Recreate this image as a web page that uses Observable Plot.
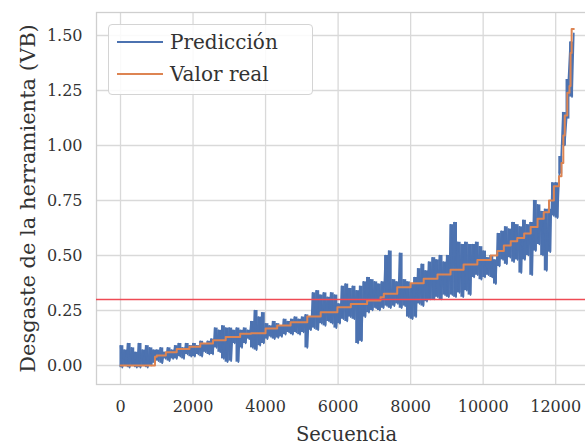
<!DOCTYPE html>
<html>
<head>
<meta charset="utf-8">
<script src="https://cdn.jsdelivr.net/npm/d3@7"></script>
<script src="https://cdn.jsdelivr.net/npm/@observablehq/plot@0.6"></script>
<style>
  html, body { margin: 0; padding: 0; background: #fff; }
  #wrap { position: relative; width: 585px; height: 445px; overflow: hidden; font-family: "DejaVu Serif", serif; }
  #chart { position: absolute; left: 0; top: 0; width: 596px; }
  #chart svg { max-width: none !important; }
  g[aria-label="y-axis label"] text { font-size: 21px; }
  g[aria-label="x-axis label"] text { font-size: 19.5px; }
  #legend { position: absolute; left: 108px; top: 24px; width: 205px; height: 71px;
    border: 1px solid #d4d4d4; border-radius: 4px; background: rgba(255,255,255,0.85); box-sizing: border-box; }
  .row { position: absolute; left: 0; height: 30px; display: flex; align-items: center; }
  .row span.ln { display: inline-block; width: 46px; height: 2px; margin-left: 8px; margin-right: 7px; }
  .row span.tx { font-size: 20px; color: #333; }
</style>
</head>
<body>
<div id="wrap">
  <div id="chart"></div>
  <div id="legend">
    <div class="row" style="top:2px"><span class="ln" style="background:#4C72B0"></span><span class="tx">Predicción</span></div>
    <div class="row" style="top:34px"><span class="ln" style="background:#DD8452"></span><span class="tx">Valor real</span></div>
  </div>
</div>
<script>
// Prediction: one value every 50 steps of the sequence (alternating high / low excursions)
const predStep = 50;
const prediccion = [
  0.09,-0.01,0.07,0.00,0.10,-0.01,0.08,0.00,0.06,-0.01,
  0.10,-0.01,0.07,0.00,0.09,-0.01,0.08,0.00,0.07,0.01,
  0.07,0.02,0.08,0.01,0.06,0.03,0.08,0.02,0.07,0.03,
  0.09,0.03,0.10,0.04,0.08,0.03,0.10,0.05,0.09,0.04,
  0.10,0.04,0.09,0.05,0.11,0.04,0.10,0.06,0.11,0.05,
  0.12,0.05,0.17,0.08,0.16,0.06,0.18,0.03,0.17,0.015,
  0.17,0.02,0.16,0.10,0.17,0.015,0.16,0.08,0.17,0.10,
  0.16,0.12,0.20,0.08,0.25,0.07,0.22,0.09,0.24,0.10,
  0.19,0.12,0.18,0.13,0.20,0.12,0.19,0.125,0.18,0.13,
  0.21,0.14,0.20,0.15,0.21,0.14,0.22,0.15,0.21,0.14,
  0.22,0.15,0.23,0.08,0.22,0.16,0.33,0.17,0.34,0.16,
  0.32,0.19,0.33,0.18,0.31,0.20,0.33,0.19,0.32,0.17,
  0.28,0.19,0.36,0.21,0.37,0.20,0.35,0.22,0.36,0.21,
  0.34,0.10,0.36,0.11,0.38,0.22,0.40,0.24,0.39,0.25,
  0.38,0.26,0.37,0.25,0.38,0.26,0.50,0.27,0.52,0.26,
  0.39,0.27,0.38,0.28,0.51,0.26,0.39,0.27,0.38,0.22,
  0.37,0.21,0.40,0.22,0.44,0.28,0.46,0.27,0.43,0.29,
  0.47,0.30,0.49,0.30,0.48,0.31,0.50,0.30,0.47,0.32,
  0.50,0.31,0.64,0.32,0.65,0.31,0.56,0.33,0.55,0.31,
  0.56,0.34,0.55,0.32,0.55,0.40,0.56,0.41,0.54,0.39,
  0.52,0.40,0.49,0.41,0.50,0.40,0.48,0.37,0.60,0.45,
  0.61,0.48,0.63,0.46,0.62,0.49,0.65,0.47,0.64,0.48,
  0.63,0.42,0.66,0.48,0.64,0.50,0.65,0.41,0.75,0.52,
  0.73,0.55,0.70,0.50,0.71,0.43,0.71,0.515,0.83,0.68,
  0.83,0.67,0.87,0.95,1.15,1.00,1.12,1.30,1.47,1.22,
  1.51
];

// Real value (staircase)
const realSeq = [0,900,950,1000,1250,1550,1900,2200,2550,2900,3300,3600,4000,4320,4690,5150,5520,5980,6350,6800,7170,7260,7630,8000,8360,8740,9100,9460,9840,10210,10390,10570,10760,10940,11130,11310,11500,11670,11815,11950,12090,12160,12210,12250,12320,12380,12410,12440,12500];
const realVal = [0,0,0.04,0.045,0.06,0.075,0.085,0.10,0.115,0.13,0.144,0.147,0.168,0.182,0.197,0.223,0.242,0.265,0.28,0.295,0.31,0.326,0.356,0.374,0.394,0.414,0.435,0.459,0.48,0.50,0.52,0.545,0.565,0.58,0.60,0.63,0.667,0.697,0.75,0.815,0.86,0.92,1.045,1.136,1.24,1.27,1.42,1.53,1.53];

const umbral = [0.3];
const xTicks = [0,2000,4000,6000,8000,10000,12000];
const yTicks = [0,0.25,0.5,0.75,1.0,1.25,1.5];

const pred = prediccion.map((v, i) => ({seq: i * predStep, v}));
// each consecutive high/low pair spans the dense noise of the prediction
const predBand = [];
for (let i = 0; i + 1 < prediccion.length; i += 2) {
  const a = prediccion[i], b = prediccion[i + 1];
  predBand.push({seq: (i + 0.5) * predStep, lo: Math.min(a, b), hi: Math.max(a, b)});
}
const real = realSeq.map((s, i) => ({seq: s, v: realVal[i]}));

const chart = Plot.plot({
  width: 596,
  height: 445,
  marginLeft: 96,
  marginRight: 0,
  marginTop: 12,
  marginBottom: 61,
  style: {fontFamily: "DejaVu Serif", fontSize: "16px", color: "#333", background: "#fff"},
  x: {domain: [-662, 13125]},
  y: {domain: [-0.0864, 1.6045]},
  marks: [
    Plot.gridX(xTicks, {stroke: "#d9d9d9", strokeOpacity: 1, strokeWidth: 1.3}),
    Plot.gridY(yTicks, {stroke: "#d9d9d9", strokeOpacity: 1, strokeWidth: 1.3}),
    Plot.frame({stroke: "#cfcfcf", strokeWidth: 1.3}),
    Plot.axisX({ticks: xTicks, tickFormat: d => String(d), tickSize: 0, tickPadding: 16, fontSize: 16,
      label: "Secuencia", labelAnchor: "center", labelArrow: "none", labelOffset: 56}),
    Plot.axisY({ticks: yTicks, tickFormat: d3.format(".2f"), tickSize: 0, tickPadding: 14, fontSize: 16,
      label: "Desgaste de la herramienta (VB)", labelAnchor: "center", labelArrow: "none", labelOffset: 76}),
    Plot.ruleX(predBand, {x: "seq", y1: "lo", y2: "hi", stroke: "#4C72B0", strokeWidth: 3.9}),
    Plot.line(pred, {x: "seq", y: "v", stroke: "#4C72B0", strokeWidth: 1.6}),
    Plot.line(real, {x: "seq", y: "v", stroke: "#DD8452", strokeWidth: 2, curve: "step-after"}),
    Plot.ruleY(umbral, {stroke: "#ef4b55", strokeWidth: 1.3})
  ]
});
document.getElementById("chart").appendChild(chart);
</script>
</body>
</html>
